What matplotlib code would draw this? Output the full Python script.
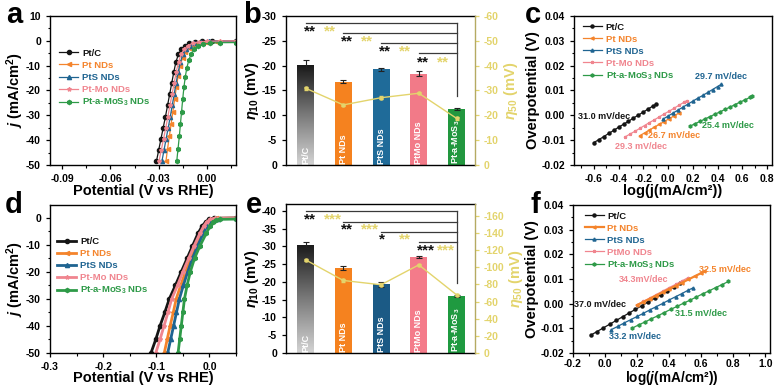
import numpy as np
import matplotlib
matplotlib.use('Agg')
import matplotlib.pyplot as plt
from matplotlib.colors import LinearSegmentedColormap
from matplotlib.ticker import MultipleLocator, FuncFormatter

plt.rcParams['font.family'] = ['Liberation Sans', 'DejaVu Sans']
plt.rcParams['font.weight'] = 'bold'
plt.rcParams['axes.labelweight'] = 'bold'
plt.rcParams['mathtext.fontset'] = 'custom'
plt.rcParams['mathtext.rm'] = 'Liberation Sans:bold'
plt.rcParams['mathtext.it'] = 'Liberation Sans:italic:bold'
plt.rcParams['mathtext.bf'] = 'Liberation Sans:bold'
plt.rcParams['axes.unicode_minus'] = False
plt.rcParams['axes.linewidth'] = 1.0
for k in ['xtick', 'ytick']:
    plt.rcParams[k + '.direction'] = 'out'
    plt.rcParams[k + '.major.size'] = 3
    plt.rcParams[k + '.minor.size'] = 1.8
    plt.rcParams[k + '.major.width'] = 0.9
    plt.rcParams[k + '.minor.width'] = 0.8
    plt.rcParams[k + '.labelsize'] = 7.5

# ---------------- colours ----------------
C_BLK = '#151515'
C_ORG = '#f4842c'
C_BLU = '#1f6491'
C_PNK = '#f0858f'
C_GRN = '#2e9a48'
C_YEL = '#e3d46c'
colors = [C_BLK, C_ORG, C_BLU, C_PNK, C_GRN]
markers = ['o', '<', '^', '*', 'h']

# ---------------- data: panel a (LSV, acid) ----------------
names_a = ['Pt/C', 'Pt NDs', 'PtS NDs', 'Pt-Mo NDs', 'Pt-a-MoS$_3$ NDs']
a_ptc_x = [-0.0314, -0.0300, -0.0286, -0.0272, -0.0258, -0.0245, -0.0232, -0.0219, -0.0206, -0.0193, -0.0178, -0.0160, -0.0138, -0.0110, -0.0075, -0.0030, 0.0030, 0.0180]
a_ptc_y = [-48.5, -44, -39.5, -35, -30.5, -26, -21.5, -17, -12.5, -8.5, -5.5, -3.4, -2.0, -1.0, -0.45, -0.15, -0.05, 0.0]
a_pt_x = [-0.0255, -0.0245, -0.0234, -0.0223, -0.0212, -0.0201, -0.0190, -0.0179, -0.0166, -0.0152, -0.0135, -0.0114, -0.0088, -0.0055, -0.0015, 0.0060, 0.0180]
a_pt_y = [-48.5, -43.5, -38.5, -33.5, -28.5, -23.5, -18.5, -14, -10, -6.8, -4.4, -2.7, -1.6, -0.9, -0.55, -0.35, -0.25]
a_pts_x = [-0.0280, -0.0267, -0.0254, -0.0241, -0.0228, -0.0216, -0.0204, -0.0192, -0.0179, -0.0165, -0.0150, -0.0131, -0.0108, -0.0078, -0.0040, 0.0010, 0.0180]
a_pts_y = [-48.5, -44, -39.5, -35, -30.5, -26, -21.5, -17, -12.5, -8.5, -5.5, -3.3, -1.9, -0.9, -0.4, -0.2, -0.1]
a_ptmo_x = [-0.0298, -0.0284, -0.0270, -0.0256, -0.0243, -0.0230, -0.0217, -0.0204, -0.0191, -0.0177, -0.0161, -0.0142, -0.0118, -0.0088, -0.0050, 0.0000, 0.0080, 0.0180]
a_ptmo_y = [-48.5, -44, -39.5, -35, -30.5, -26, -21.5, -17, -12.5, -8.5, -5.5, -3.3, -1.9, -0.9, -0.4, -0.15, -0.05, 0.0]
a_mos_x = [-0.0188, -0.0180, -0.0172, -0.0165, -0.0158, -0.0151, -0.0143, -0.0135, -0.0125, -0.0113, -0.0098, -0.0078, -0.0053, -0.0022, 0.0020, 0.0080, 0.0180]
a_mos_y = [-48.5, -43.5, -38.5, -33.5, -28.5, -23.5, -18.5, -14.5, -10.8, -7.8, -5.3, -3.4, -2.1, -1.3, -0.9, -0.75, -0.7]

# ---------------- data: panel b (bars, acid) ----------------
bar_names_b = ['Pt/C', 'Pt NDs', 'PtS NDs', 'PtMo NDs', 'Pt-a-MoS$_3$']
eta10_b = [-20.1, -16.8, -19.3, -18.4, -11.3]
eta10_err_b = [1.0, 0.3, 0.3, 0.5, 0.2]
eta50_b = [-30.9, -24.2, -27.1, -28.9, -18.8]
eta50_err_b = [0.6, 0.4, 0.5, 0.5, 0.6]
stars_k_b = ['**', '**', '**', '**']
stars_y_b = ['**', '**', '**', '**']

# ---------------- data: panel c (Tafel, acid) ----------------
c_ptc_x = [-0.60, -0.56, -0.52, -0.48, -0.44, -0.40, -0.36, -0.32, -0.28, -0.24, -0.20, -0.16, -0.12, -0.10]
c_ptc_y = [-0.0110, -0.0098, -0.0086, -0.0073, -0.0061, -0.0048, -0.0036, -0.0024, -0.0011, 0.0001, 0.0013, 0.0026, 0.0038, 0.0044]
c_pt_x = [-0.23, -0.19, -0.15, -0.11, -0.07, -0.03, 0.01, 0.05, 0.09]
c_pt_y = [-0.0082, -0.0071, -0.0059, -0.0048, -0.0036, -0.0025, -0.0013, -0.0002, 0.0010]
c_pts_x = [-0.04, 0.00, 0.04, 0.08, 0.12, 0.16, 0.20, 0.24, 0.28, 0.32, 0.36, 0.40, 0.43]
c_pts_y = [-0.0015, -0.0003, 0.0009, 0.0021, 0.0033, 0.0045, 0.0057, 0.0069, 0.0080, 0.0092, 0.0104, 0.0116, 0.0125]
c_ptmo_x = [-0.35, -0.31, -0.27, -0.23, -0.19, -0.15, -0.11, -0.07, -0.03, 0.01, 0.05, 0.09, 0.13, 0.15]
c_ptmo_y = [-0.0088, -0.0076, -0.0065, -0.0053, -0.0041, -0.0029, -0.0018, -0.0006, 0.0006, 0.0017, 0.0029, 0.0041, 0.0053, 0.0059]
c_mos_x = [0.18, 0.22, 0.26, 0.30, 0.34, 0.38, 0.42, 0.46, 0.50, 0.54, 0.58, 0.62, 0.66, 0.68]
c_mos_y = [-0.0043, -0.0033, -0.0024, -0.0014, -0.0005, 0.0005, 0.0014, 0.0024, 0.0033, 0.0043, 0.0053, 0.0062, 0.0072, 0.0077]
c_labels = ['31.0 mV/dec', '26.7 mV/dec', '29.7 mV/dec', '29.3 mV/dec', '25.4 mV/dec']
c_label_xy = [(-0.52, -0.0005), (0.045, -0.0083), (0.43, 0.0155), (-0.22, -0.0125), (0.48, -0.0042)]

# ---------------- data: panel d (LSV, alkaline) ----------------
names_d = ['Pt/C', 'Pt NDs', 'PtS NDs', 'Pt-Mo NDs', 'Pt-a-MoS$_3$ NDs']
d_ptc_x = [-0.110, -0.101, -0.093, -0.084, -0.0755, -0.064, -0.053, -0.042, -0.032, -0.0215, -0.014, -0.007, 0.000, 0.008, 0.050]
d_ptc_y = [-50, -45, -40, -35, -30, -25, -20, -15, -10.5, -5.8, -3.2, -1.5, -0.6, -0.2, -0.1]
d_pt_x = [-0.085, -0.0795, -0.074, -0.068, -0.0625, -0.054, -0.045, -0.0355, -0.026, -0.0145, -0.008, -0.002, 0.005, 0.013, 0.050]
d_pt_y = [-50, -45, -40, -35, -30, -25, -20, -15, -10.5, -5.8, -3.2, -1.5, -0.6, -0.25, -0.15]
d_pts_x = [-0.0785, -0.073, -0.0675, -0.062, -0.0565, -0.049, -0.041, -0.032, -0.0225, -0.0115, -0.005, 0.001, 0.008, 0.016, 0.050]
d_pts_y = [-50, -45, -40, -35, -30, -25, -20, -15, -10.5, -5.8, -3.2, -1.5, -0.6, -0.3, -0.2]
d_ptmo_x = [-0.101, -0.093, -0.0855, -0.078, -0.071, -0.060, -0.050, -0.039, -0.029, -0.018, -0.011, -0.005, 0.002, 0.010, 0.050]
d_ptmo_y = [-50, -45, -40, -35, -30, -25, -20, -15, -10.5, -5.8, -3.2, -1.5, -0.6, -0.2, -0.1]
d_mos_x = [-0.059, -0.056, -0.053, -0.050, -0.047, -0.042, -0.036, -0.028, -0.018, -0.006, 0.001, 0.007, 0.013, 0.020, 0.050]
d_mos_y = [-50, -45, -40, -35, -30, -25, -20, -15, -10.5, -5.8, -3.2, -1.6, -0.9, -0.6, -0.5]

# ---------------- data: panel e (bars, alkaline) ----------------
eta10_e = [-30.4, -24.0, -19.3, -27.1, -16.1]
eta10_err_e = [0.8, 0.6, 0.6, 0.3, 0.3]
eta50_e = [-108.5, -84.5, -79.5, -102.7, -67.8]
eta50_err_e = [1.5, 1.2, 1.5, 1.5, 1.2]
stars_k_e = ['**', '**', '*', '***']
stars_y_e = ['***', '***', '**', '***']

# ---------------- data: panel f (Tafel, alkaline) ----------------
names_f = ['Pt/C', 'Pt NDs', 'PtS NDs', 'PtMo NDs', 'Pt-a-MoS$_3$ NDs']
f_ptc_x = [-0.09, -0.05, -0.01, 0.03, 0.07, 0.11, 0.15, 0.19, 0.23, 0.27, 0.31, 0.35, 0.39, 0.43, 0.47]
f_ptc_y = [-0.0128, -0.0113, -0.0098, -0.0083, -0.0068, -0.0053, -0.0038, -0.0023, -0.0008, 0.0007, 0.0022, 0.0037, 0.0052, 0.0067, 0.0082]
f_pt_x = [0.20, 0.24, 0.28, 0.32, 0.36, 0.40, 0.44, 0.48, 0.52, 0.56, 0.60, 0.62]
f_pt_y = [-0.0006, 0.0007, 0.0020, 0.0033, 0.0046, 0.0059, 0.0072, 0.0085, 0.0098, 0.0111, 0.0124, 0.0131]
f_pts_x = [0.04, 0.08, 0.12, 0.16, 0.20, 0.24, 0.28, 0.32, 0.36, 0.40, 0.44, 0.48, 0.52, 0.55]
f_pts_y = [-0.0105, -0.0092, -0.0078, -0.0065, -0.0052, -0.0039, -0.0025, -0.0012, 0.0001, 0.0015, 0.0028, 0.0041, 0.0055, 0.0064]
f_ptmo_x = [0.20, 0.24, 0.28, 0.32, 0.36, 0.40, 0.44, 0.48, 0.52]
f_ptmo_y = [-0.0004, 0.0010, 0.0023, 0.0037, 0.0051, 0.0065, 0.0078, 0.0092, 0.0106]
f_mos_x = [0.17, 0.21, 0.25, 0.29, 0.33, 0.37, 0.41, 0.45, 0.49, 0.53, 0.57, 0.61, 0.65, 0.69, 0.73, 0.77]
f_mos_y = [-0.0099, -0.0086, -0.0074, -0.0061, -0.0049, -0.0036, -0.0023, -0.0011, 0.0002, 0.0014, 0.0027, 0.0040, 0.0052, 0.0065, 0.0077, 0.0090]
f_labels = ['37.0 mV/dec', '32.5 mV/dec', '33.2 mV/dec', '34.3mV/dec', '31.5 mV/dec']
f_label_xy = [(-0.03, -0.0004), (0.75, 0.0137), (0.185, -0.0132), (0.24, 0.0097), (0.60, -0.0041)]

# ---------------- figure ----------------
W, H = 779, 387
fig = plt.figure(figsize=(W / 100, H / 100), dpi=100)


def add_ax(l, r, t, b):
    return fig.add_axes([l / W, 1 - b / H, (r - l) / W, (b - t) / H])


def fmt(nd):
    def f(v, pos):
        if abs(v) < 1e-12:
            v = 0.0
        return ('%.' + str(nd) + 'f') % v
    return FuncFormatter(f)


def color_legend(ax, anchor, fs=6.8):
    leg = ax.legend(loc='upper left', bbox_to_anchor=anchor, frameon=False, fontsize=fs,
                    handlelength=2.0, handletextpad=0.4, labelspacing=0.32, borderaxespad=0,
                    borderpad=0)
    for t, c in zip(leg.get_texts(), colors):
        t.set_color(c)
    return leg


# ---- panel a ----
ax = add_ax(50, 236, 16, 165)
series = [(a_ptc_x, a_ptc_y), (a_pt_x, a_pt_y), (a_pts_x, a_pts_y), (a_ptmo_x, a_ptmo_y), (a_mos_x, a_mos_y)]
for (x, y), c, m, n in zip(series, colors, markers, names_a):
    ax.plot(x, y, color=c, marker=m, ms=3, lw=0.9, label=n)
ax.set_xlim(-0.0975, 0.018)
ax.set_ylim(-50, 10)
ax.set_xticks([-0.09, -0.06, -0.03, 0.0])
ax.xaxis.set_major_formatter(fmt(2))
ax.xaxis.set_minor_locator(MultipleLocator(0.015))
ax.set_yticks([10, 0, -10, -20, -30, -40, -50])
ax.yaxis.set_minor_locator(MultipleLocator(5))
ax.set_xlabel('Potential (V vs RHE)', fontsize=10.5, labelpad=0)
ax.set_ylabel(r'$\mathit{j}$ (mA/cm$^2$)', fontsize=10.5, labelpad=0)
color_legend(ax, (0.05, 0.78))

# ---- panel c ----
ax = add_ax(574, 772, 16, 165)
series = [(c_ptc_x, c_ptc_y), (c_pt_x, c_pt_y), (c_pts_x, c_pts_y), (c_ptmo_x, c_ptmo_y), (c_mos_x, c_mos_y)]
for (x, y), c, m, n in zip(series, colors, markers, names_a):
    ax.plot(x, y, color=c, marker=m, ms=2.2, lw=0.9, label=n)
for (lx, ly), t, c in zip(c_label_xy, c_labels, colors):
    ax.text(lx, ly, t, color=c, fontsize=6.5, ha='center', va='center')
ax.set_xlim(-0.76, 0.84)
ax.set_ylim(-0.02, 0.04)
ax.set_xticks([-0.6, -0.4, -0.2, 0.0, 0.2, 0.4, 0.6, 0.8])
ax.xaxis.set_major_formatter(fmt(1))
ax.xaxis.set_minor_locator(MultipleLocator(0.1))
ax.set_yticks([-0.02, -0.01, 0.0, 0.01, 0.02, 0.03, 0.04])
ax.yaxis.set_major_formatter(fmt(2))
ax.yaxis.set_minor_locator(MultipleLocator(0.005))
ax.set_xlabel('log(j(mA/cm²))', fontsize=10.5, labelpad=0)
ax.set_ylabel('Overpotential (V)', fontsize=10.5, labelpad=1)
color_legend(ax, (0.045, 0.955))

# ---- panel d ----
ax = add_ax(50, 236, 205, 353)
series = [(d_ptc_x, d_ptc_y), (d_pt_x, d_pt_y), (d_pts_x, d_pts_y), (d_ptmo_x, d_ptmo_y), (d_mos_x, d_mos_y)]
for (x, y), c, m, n in zip(series, colors, markers, names_d):
    ax.plot(x, y, color=c, marker=m, ms=3, lw=2.0, label=n)
ax.set_xlim(-0.3, 0.05)
ax.set_ylim(-50, 4.7)
ax.set_xticks([-0.3, -0.2, -0.1, 0.0])
ax.xaxis.set_major_formatter(fmt(1))
ax.xaxis.set_minor_locator(MultipleLocator(0.05))
ax.set_yticks([0, -10, -20, -30, -40, -50])
ax.yaxis.set_minor_locator(MultipleLocator(5))
ax.set_xlabel('Potential (V vs RHE)', fontsize=10.5, labelpad=-1)
ax.set_ylabel(r'$\mathit{j}$ (mA/cm$^2$)', fontsize=10.5, labelpad=0)
color_legend(ax, (0.04, 0.785))

# ---- panel f ----
ax = add_ax(573, 770, 205, 353)
series = [(f_ptc_x, f_ptc_y), (f_pt_x, f_pt_y), (f_pts_x, f_pts_y), (f_ptmo_x, f_ptmo_y), (f_mos_x, f_mos_y)]
order = [0, 3, 1, 2, 4]
lines = {}
for i in order:
    (x, y) = series[i]
    lines[i], = ax.plot(x, y, color=colors[i], marker=markers[i], ms=2.2, lw=0.9 if i != 1 else 1.6, label=names_f[i])
for (lx, ly), t, c in zip(f_label_xy, f_labels, colors):
    ax.text(lx, ly, t, color=c, fontsize=6.5, ha='center', va='center')
ax.set_xlim(-0.2, 1.03)
ax.set_ylim(-0.02, 0.04)
ax.set_xticks([-0.2, 0.0, 0.2, 0.4, 0.6, 0.8, 1.0])
ax.xaxis.set_major_formatter(fmt(1))
ax.xaxis.set_minor_locator(MultipleLocator(0.1))
ax.tick_params(axis='x', pad=1.5)
ax.set_yticks([-0.02, -0.01, 0.0, 0.01, 0.02, 0.03, 0.04])
ax.yaxis.set_major_formatter(fmt(2))
ax.yaxis.set_minor_locator(MultipleLocator(0.005))
ax.set_xlabel(r'log($\mathit{j}$(mA/cm²))', fontsize=9.8, labelpad=0)
ax.set_ylabel('Overpotential (V)', fontsize=10.5, labelpad=1)
leg = ax.legend([lines[i] for i in range(5)], names_f, loc='upper left', bbox_to_anchor=(0.06, 0.955),
                frameon=False, fontsize=6.8, handlelength=2.0, handletextpad=0.4, labelspacing=0.32,
                borderaxespad=0, borderpad=0)
for t, c in zip(leg.get_texts(), colors):
    t.set_color(c)


# ---- bar panels ----
bar_cols_b = ['#222222', '#f5821f', '#1f6b99', '#f27a88', '#22973f']
bar_cols_e = ['#222222', '#f5821f', '#1b5a85', '#f47b8a', '#1f9a40']
gray_cmap = LinearSegmentedColormap.from_list('g', ['#d4d4d4', '#7a7a7a', '#1a1a1a'])


def bar_panel(l, r, t, b, vals, errs, yv, ye, lmax, rmax, lstep, rstep, rlabel,
              levels, vbot, star_rows, sk, sy, bcols):
    ax = add_ax(l, r, t, b)
    xs = np.arange(len(vals))
    w = 0.45
    bars = ax.bar(xs, vals, width=w, color=bcols, zorder=2)
    # gradient on Pt/C bar
    p = bars[0]
    im = ax.imshow(np.linspace(0, 1, 256).reshape(-1, 1), cmap=gray_cmap, origin='lower',
                   extent=(xs[0] - w / 2, xs[0] + w / 2, 0, vals[0]), aspect='auto', zorder=2.1)
    im.set_clip_path(p)
    ax.errorbar(xs, vals, yerr=errs, fmt='none', ecolor='#222222', elinewidth=0.8, capsize=2,
                capthick=0.8, zorder=3)
    for i, n in enumerate(bar_names_b):
        ax.text(xs[i], -0.3, n, rotation=90, ha='center', va='bottom', color='white',
                fontsize=6.5, zorder=4)
    # significance brackets
    last = xs[-1]
    for i, lv in enumerate(levels):
        ax.plot([xs[i], last], [lv, lv], color='#3a3a3a', lw=0.9, zorder=3)
    ax.plot([last, last], [levels[0], vbot], color='#3a3a3a', lw=0.9, zorder=3)
    for i, sr in enumerate(star_rows):
        ax.text(xs[i] - 0.05, sr, sk[i], color='#111111', fontsize=11, ha='left', va='center', zorder=4)
        ax.text(xs[i] + 0.48, sr, sy[i], color=C_YEL, fontsize=11, ha='left', va='center', zorder=4)
    ax.set_xlim(-0.52, 4.49)
    ax.set_ylim(0, lmax)
    ax.set_xticks([])
    ax.set_yticks(np.arange(0, lmax - 0.01, -lstep))
    ax.spines['right'].set_visible(False)
    ax.set_ylabel(r'$\eta_{10}$ (mV)', fontsize=10.5, labelpad=1)
    ax2 = ax.twinx()
    ax2.errorbar(xs, yv, yerr=ye, color=C_YEL, marker='o', ms=2.2, lw=1.0, elinewidth=0.7,
                 capsize=1.5, zorder=5)
    ax2.set_ylim(0, rmax)
    ax2.set_yticks(np.arange(0, rmax - 0.01, -rstep))
    for s in ['left', 'top', 'bottom']:
        ax2.spines[s].set_visible(False)
    ax2.spines['right'].set_color('#b5aa62')
    ax2.tick_params(axis='y', colors=C_YEL, labelcolor=C_YEL)
    ax2.set_ylabel(rlabel, fontsize=10.5, color=C_YEL, labelpad=2)
    return ax


bar_panel(286, 475, 16, 165, eta10_b, eta10_err_b, eta50_b, eta50_err_b, -30, -60, 5, 10,
          r'$\eta_{50}$ (mV)', [-28.5, -26.5, -24.5, -22.5], -13.8,
          [-26.9, -24.9, -22.8, -20.7], stars_k_b, stars_y_b, bar_cols_b)
bar_panel(286, 475, 204, 353, eta10_e, eta10_err_e, eta50_e, eta50_err_e, -41.9, -173.6, 5, 20,
          r'$\eta_{50}$ (mV)', [-40.0, -36.9, -34.1, -31.1], -19.6,
          [-37.6, -34.8, -31.9, -28.9], stars_k_e, stars_y_e, bar_cols_e)

# ---- panel letters ----
for lt, (px, py) in zip('abcdef', [(14, 15), (252, 15), (533, 15), (14, 205), (254, 205), (535, 205)]):
    fig.text(px / W, 1 - py / H, lt, fontsize=21, ha='center', va='center', fontweight='bold')

fig.savefig('out.png', dpi=100)
